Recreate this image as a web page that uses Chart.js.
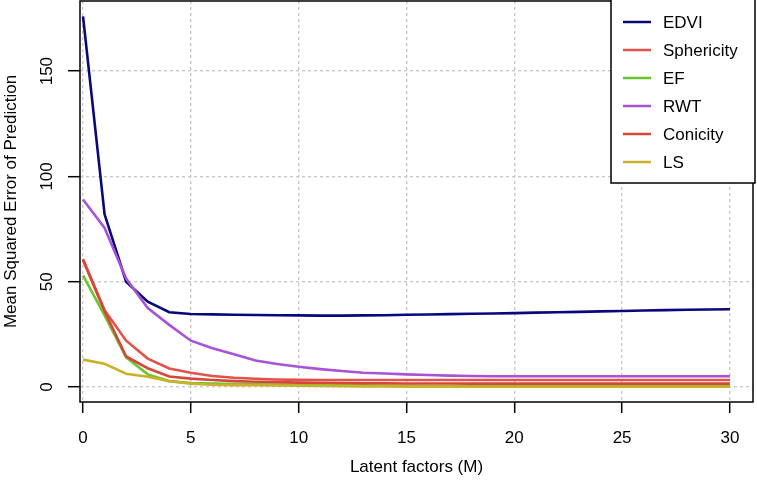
<!DOCTYPE html>
<html>
<head>
<meta charset="utf-8">
<script src="https://cdn.jsdelivr.net/npm/chart.js@4/dist/chart.umd.min.js"></script>
<style>
  body { margin: 0; background: #fff; }
  canvas { display: block; }
</style>
</head>
<body>
<canvas id="msep" width="757" height="487"></canvas>
<script>
// latent factors M = 0..30
const factors = [0,1,2,3,4,5,6,7,8,9,10,11,12,13,14,15,16,17,18,19,20,21,22,23,24,25,26,27,28,29,30];

const edvi = [176, 82, 50, 40.5, 35.5, 34.7, 34.5, 34.3, 34.2, 34.1, 34.0, 33.9, 33.9, 34.0, 34.1, 34.3,
  34.4, 34.6, 34.8, 34.9, 35.1, 35.3, 35.5, 35.7, 35.9, 36.1, 36.3, 36.5, 36.7, 36.8, 36.9];
const sphericity = [60.8, 36.5, 22, 13.5, 8.8, 6.8, 5.2, 4.4, 3.9, 3.6, 3.4, 3.3, 3.3, 3.3, 3.3, 3.3,
  3.3, 3.3, 3.3, 3.3, 3.3, 3.3, 3.3, 3.3, 3.3, 3.3, 3.3, 3.3, 3.3, 3.3, 3.3];
const ef = [53, 34, 14, 6.0, 2.8, 1.9, 1.6, 1.4, 1.3, 1.2, 1.1, 1.0, 0.9, 0.8, 0.7, 0.6,
  0.5, 0.5, 0.4, 0.4, 0.4, 0.3, 0.3, 0.3, 0.3, 0.3, 0.3, 0.3, 0.3, 0.3, 0.3];
const rwt = [89, 75.5, 51.5, 37.5, 29.5, 22, 18.4, 15.5, 12.6, 10.9, 9.6, 8.5, 7.6, 6.8, 6.4, 6.0,
  5.7, 5.4, 5.2, 5.1, 5.1, 5.1, 5.1, 5.1, 5.1, 5.1, 5.1, 5.1, 5.1, 5.1, 5.1];
const conicity = [60.2, 36, 14.5, 8.9, 5.0, 4.0, 3.3, 2.8, 2.5, 2.3, 2.1, 2.0, 1.9, 1.8, 1.8, 1.7,
  1.7, 1.7, 1.6, 1.6, 1.6, 1.6, 1.6, 1.6, 1.6, 1.6, 1.6, 1.6, 1.6, 1.6, 1.6];
const ls = [13, 11, 6.3, 4.9, 2.7, 1.6, 1.1, 0.9, 0.8, 0.7, 0.6, 0.5, 0.4, 0.3, 0.3, 0.2,
  0.2, 0.2, 0.1, 0.1, 0.1, 0.1, 0.1, 0.1, 0.1, 0.1, 0.1, 0.1, 0.1, 0.1, 0.1];

const seriesNames = ['EDVI', 'Sphericity', 'EF', 'RWT', 'Conicity', 'LS'];
const seriesData = [edvi, sphericity, ef, rwt, conicity, ls];
const seriesColors = ['#08087c', '#e0524a', '#6cc42c', '#a852d8', '#d8463a', '#cbb02c'];

const xTicks = [0, 5, 10, 15, 20, 25, 30];
const yTicks = [0, 50, 100, 150];

const FONT = 'Liberation Sans, Arial, Helvetica, sans-serif';

// box around the plot and the legend in the top right corner, R style
const framePlugin = {
    id: 'frame',
    afterDatasetsDraw(chart) {
        const ctx = chart.ctx;
        const a = chart.chartArea;
        ctx.save();
        ctx.strokeStyle = '#000';
        ctx.lineWidth = 1.5;
        ctx.strokeRect(a.left, a.top, a.right - a.left, a.bottom - a.top);

        // legend
        const lx = 611, ly = -1, lw = 144, lh = 184;
        ctx.fillStyle = '#fff';
        ctx.fillRect(lx, ly, lw, lh);
        ctx.strokeRect(lx, ly, lw, lh);
        ctx.font = '17px ' + FONT;
        ctx.textBaseline = 'middle';
        ctx.textAlign = 'left';
        chart.data.datasets.forEach((ds, i) => {
            const y = 22 + i * 28;
            ctx.strokeStyle = ds.borderColor;
            ctx.lineWidth = 2.5;
            ctx.beginPath();
            ctx.moveTo(623, y);
            ctx.lineTo(651, y);
            ctx.stroke();
            ctx.fillStyle = '#000';
            ctx.fillText(ds.label, 663, y + 1);
        });
        ctx.restore();
    }
};

const ctx = document.getElementById('msep').getContext('2d');
new Chart(ctx, {
    type: 'line',
    data: {
        datasets: seriesNames.map((name, i) => ({
            label: name,
            data: factors.map((m, j) => ({ x: m, y: seriesData[i][j] })),
            borderColor: seriesColors[i],
            backgroundColor: seriesColors[i],
            borderWidth: 2.6,
            pointRadius: 0,
            tension: 0,
            fill: false,
            order: seriesNames.length - i
        }))
    },
    options: {
        responsive: false,
        animation: false,
        devicePixelRatio: 1,
        layout: { padding: { top: 1, right: 4, left: 0, bottom: 0 } },
        plugins: {
            legend: { display: false },
            tooltip: { enabled: false }
        },
        scales: {
            x: {
                type: 'linear',
                min: -0.14,
                max: 31.07,
                afterBuildTicks: s => { s.ticks = xTicks.map(v => ({ value: v })); },
                afterFit: s => { s.height = 85; s.paddingLeft = 0; s.paddingRight = 0; },
                grid: { color: '#c8c8c8', lineWidth: 1.4, tickColor: '#000', tickWidth: 1.5, tickLength: 11 },
                border: { display: false, dash: [3, 3] },
                ticks: { color: '#000', font: { size: 17, family: FONT }, padding: 15, maxRotation: 0 },
                title: {
                    display: true,
                    text: 'Latent factors (M)',
                    color: '#000',
                    font: { size: 17, family: FONT },
                    padding: { top: 0, bottom: 9 }
                }
            },
            y: {
                type: 'linear',
                min: -7.12,
                max: 183.3,
                afterBuildTicks: s => { s.ticks = yTicks.map(v => ({ value: v })); },
                afterFit: s => { s.width = 80; s.paddingTop = 0; s.paddingBottom = 0; },
                grid: { color: '#c8c8c8', lineWidth: 1.4, tickColor: '#000', tickWidth: 1.5, tickLength: 12 },
                border: { display: false, dash: [3, 3] },
                ticks: {
                    color: '#000',
                    font: { size: 17, family: FONT },
                    minRotation: 90,
                    maxRotation: 90,
                    crossAlign: 'center',
                    padding: 7
                },
                title: {
                    display: true,
                    text: 'Mean Squared Error of Prediction',
                    color: '#000',
                    font: { size: 17, family: FONT },
                    padding: { top: 1, bottom: 0 }
                }
            }
        }
    },
    plugins: [framePlugin]
});
</script>
</body>
</html>
